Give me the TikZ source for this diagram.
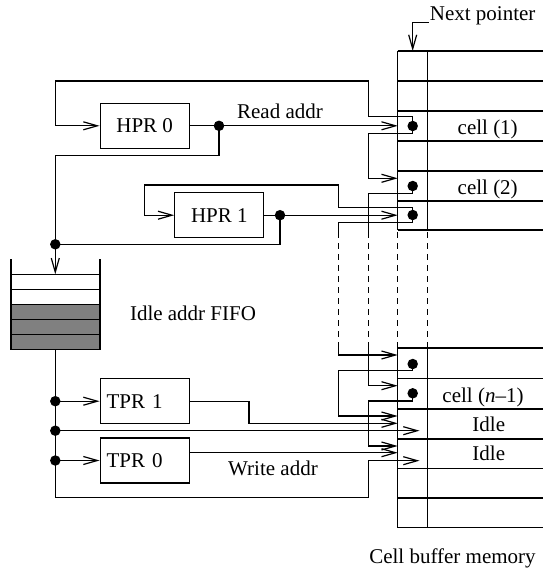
\documentclass[tikz,border=0pt]{standalone}
\usepackage{fontspec}
\setmainfont{Liberation Serif}
\usetikzlibrary{arrows.meta}
\begin{document}
\begin{tikzpicture}[x=1pt,y=-1pt,line width=1.2pt,
  >={Straight Barb[length=14pt,width=8pt]},
  every node/.style={font=\fontsize{21}{25}\selectfont},
  box/.style={draw,minimum width=89pt,minimum height=45pt,inner sep=0pt},
  dot/.style={circle,fill,inner sep=0pt,minimum size=10.5pt},
  lbl/.style={inner sep=0pt,anchor=base}]
\useasboundingbox (0,0) rectangle (543,573);
% memory grid
\foreach \y in {51,81,111,141,171,201,230,348,378.5,409,439,468.3,498,527.7}
  \draw (397.7,\y) -- (543,\y);
\draw (397.7,51) -- (397.7,230) (427.5,51) -- (427.5,230);
\draw (397.7,348) -- (397.7,527.7) (427.5,348) -- (427.5,527.7);
\draw[dash pattern=on 6pt off 5pt] (338.3,232) -- (338.3,348) (368.3,232) -- (368.3,348)
  (397.7,232) -- (397.7,348) (427.5,232) -- (427.5,348);
% memory targets
\coordinate (npt) at (412.7,51);
\coordinate (m1) at (397.7,125.8);
\coordinate (m2) at (397.7,178.3);
\coordinate (m3) at (397.7,215.2);
\coordinate (mA) at (397.7,355);
\coordinate (mB) at (397.7,385.7);
\coordinate (mI1a) at (397.7,416);
\coordinate (mI1b) at (397.7,423.3);
\coordinate (mI1n) at (419.5,430.7);
\coordinate (mI2a) at (397.7,446);
\coordinate (mI2b) at (397.7,452.7);
\coordinate (mI2n) at (419.5,460.7);
% FIFO
\fill[black!50] (11,304.3) rectangle (100,349.3);
\draw[line width=1.5pt] (11,259.3) -- (11,349.3) -- (100,349.3) -- (100,259.3);
\foreach \y in {274.3,289.3,304.3,319.3,334.3} \draw[line width=1.5pt] (11,\y) -- (100,\y);
\coordinate (fifotop) at (55.3,274.3);
\coordinate (fifobot) at (55.3,349.3);
\node[lbl] at (193,320) {Idle addr FIFO};
% boxes
\node[box] (hpr0) at (144.65,125.8) {HPR 0};
\node[box] (hpr1) at (219.3,215.2) {HPR 1};
\node[box,text width=76pt,align=left] (tpr1) at (144.65,401.2) {TPR 1};
\node[box,text width=76pt,align=left] (tpr0) at (144.65,460.5) {TPR 0};
% dots
\node[dot] (d0) at (219,125.8) {};
\node[dot] (d1) at (280,215.2) {};
\node[dot] (dh) at (55.3,244.3) {};
\node[dot] (dt1) at (55.3,401.2) {};
\node[dot] (dtm) at (55.3,430.7) {};
\node[dot] (dt0) at (55.3,460.5) {};
\node[dot] (c1) at (412.7,126) {};
\node[dot] (c2) at (412.7,186) {};
\node[dot] (c3) at (412.7,215) {};
\node[dot] (cA) at (412.7,364) {};
\node[dot] (cB) at (412.7,393.3) {};
% HPR 0
\draw (hpr0.east) -- (d0.center);
\draw[->] (d0.center) -- (m1);
\node[lbl] at (280,118.3) {Read addr};
\draw[->] (d0.center) |- (55.3,155.7) -- (fifotop);
\draw[->] (c1.center) |- (368.3,116.7) |- (55.3,81) |- (hpr0.west);
\draw[->] (c1.center) |- (368.3,133.3) |- (m2);
\draw (c2.center) |- (368.3,193.3) -- (368.3,232);
\draw[->] (368.3,348) |- (mB);
% HPR 1
\draw[->] (c3.center) |- (338.3,207.3) |- (144.3,185) |- (hpr1.west);
\draw (c3.center) |- (338.3,222.7) -- (338.3,232);
\draw[->] (338.3,348) |- (mA);
\draw (hpr1.east) -- (d1.center);
\draw[->] (d1.center) -- (m3);
\draw (d1.center) |- (dh.center);
% tail side
\draw[->] (fifobot) |- (368.3,497.5) |- (mI2n);
\draw[->] (dt1.center) -- (tpr1.west);
\draw[->] (dtm.center) -- (mI1n);
\draw[->] (dt0.center) -- (tpr0.west);
\draw[->] (tpr1.east) -- (249,401.2) |- (mI1b);
\draw[->] ([yshift=7.8pt]tpr0.east) -- (mI2b);
\node[lbl] at (273,475) {Write addr};
\draw[->] (cA.center) |- (338.3,370.7) |- (mI1a);
\draw[->] (cB.center) |- (368.3,401) |- (mI2a);
% next pointer
\node[lbl,anchor=base west] (np) at (429.3,20.7) {Next pointer};
\draw[->] (428.5,22.7) -| (npt);
% cell labels
\node[lbl] at (487.7,134) {cell (1)};
\node[lbl] at (487.7,194) {cell (2)};
\node[lbl] at (483,402) {cell (\textit{n}--1)};
\node[lbl] at (488.8,431) {Idle};
\node[lbl] at (488.8,460) {Idle};
\node[lbl] at (452.5,563) {Cell buffer memory};
\end{tikzpicture}
\end{document}
